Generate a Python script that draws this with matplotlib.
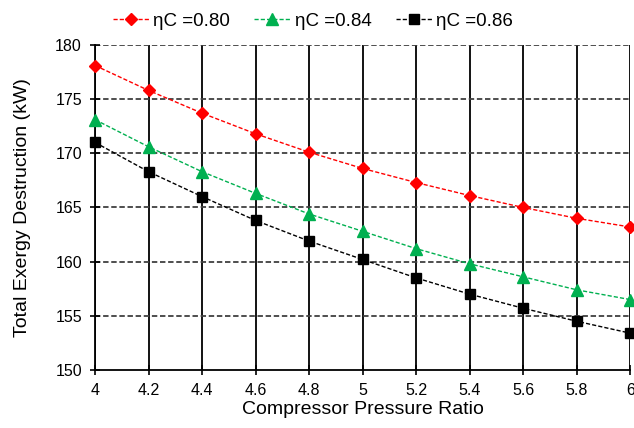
import matplotlib
matplotlib.use("Agg")
import matplotlib.pyplot as plt
import numpy as np

plt.rcParams['font.family'] = ['Liberation Sans', 'DejaVu Sans']

pressure_ratio = [4.0, 4.2, 4.4, 4.6, 4.8, 5.0, 5.2, 5.4, 5.6, 5.8, 6.0]
ed_080 = [178.1, 175.8, 173.7, 171.8, 170.1, 168.6, 167.3, 166.1, 165.0, 164.0, 163.2]
ed_084 = [173.1, 170.6, 168.3, 166.3, 164.4, 162.8, 161.2, 159.8, 158.6, 157.4, 156.5]
ed_086 = [171.0, 168.3, 166.0, 163.8, 161.9, 160.2, 158.5, 157.0, 155.7, 154.5, 153.4]
labels = ['ηC =0.80', 'ηC =0.84', 'ηC =0.86']
xtick_labels = ['4', '4.2', '4.4', '4.6', '4.8', '5', '5.2', '5.4', '5.6', '5.8', '6']

fig = plt.figure(figsize=(6.34, 4.28), dpi=100)
ax = fig.add_axes([0.150, 0.1355, 0.844, 0.7595])

ax.set_xlim(4, 6)
ax.set_ylim(150, 180)
xt = np.arange(4, 6.01, 0.2)
ax.set_xticks(xt)
ax.set_xticklabels(xtick_labels)
ax.set_yticks(np.arange(150, 181, 5))

for x in xt:
    ax.axvline(x, color='black', lw=1.3, zorder=1)
for y in np.arange(155, 181, 5):
    ax.axhline(y, color='#404040', lw=1.3, ls=(0, (3, 1.5)), zorder=1)

ax.plot(pressure_ratio, ed_080, color='red', ls=(0, (3, 1.5)), lw=1, marker='D', ms=6.5,
        label=labels[0], zorder=3, clip_on=False)
ax.plot(pressure_ratio, ed_084, color='#00b050', ls=(0, (3, 1.5)), lw=1, marker='^', ms=8.5,
        label=labels[1], zorder=3, clip_on=False)
ax.plot(pressure_ratio, ed_086, color='black', ls=(0, (3, 1.5)), lw=1, marker='s', ms=7,
        label=labels[2], zorder=3, clip_on=False)

for s in ['top', 'right']:
    ax.spines[s].set_visible(False)
ax.spines['left'].set_linewidth(1.3)
ax.spines['bottom'].set_linewidth(1.3)
ax.tick_params(axis='both', labelsize=11.5, length=7, width=1.2, direction='inout', pad=6)

ax.set_xlabel('Compressor Pressure Ratio', fontsize=14, labelpad=2)
ax.set_ylabel('Total Exergy Destruction (kW)', fontsize=14)
ax.yaxis.set_label_coords(-0.12, 0.5)

fig.legend(loc='center', bbox_to_anchor=(313 / 634, 0.951), ncol=3, frameon=False, fontsize=13.5,
           handlelength=1.9, columnspacing=1.3, handletextpad=0.25)

fig.savefig('out.png', dpi=100)
